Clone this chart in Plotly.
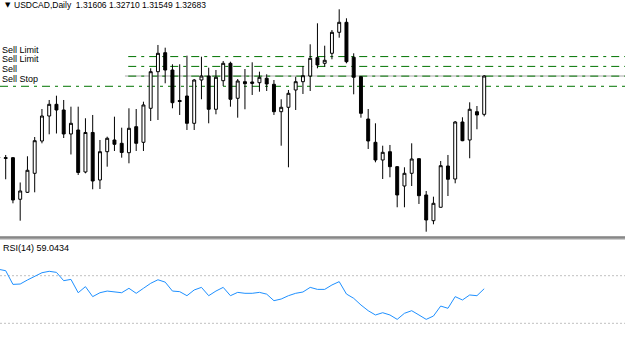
import plotly.graph_objects as go

# ---------------- data ----------------
symbol_title = "USDCAD,Daily"
ohlc_text = "1.31606 1.32710 1.31549 1.32683"

open_ = [1.30393, 1.30365, 1.30388, 1.29219, 1.29415, 1.29949, 1.30857, 1.31559, 1.31888, 1.31728,
         1.31054, 1.31166, 1.29986, 1.31096, 1.29761, 1.30556, 1.30885, 1.30792, 1.30528, 1.31259,
         1.30820, 1.31776, 1.32804, 1.33338, 1.32852, 1.31995, 1.32121, 1.31354, 1.32571, 1.32683,
         1.31748, 1.32551, 1.33040, 1.32057, 1.32523, 1.32473, 1.32495, 1.32619, 1.32450, 1.31680,
         1.31804, 1.32290, 1.32523, 1.32683, 1.33198, 1.33040, 1.33321, 1.33911, 1.34192, 1.33209,
         1.32664, 1.31475, 1.30820, 1.30323, 1.30556, 1.30135, 1.29592, 1.29949, 1.30360, 1.29340,
         1.28617, 1.28994, 1.30154, 1.29789, 1.31391, 1.30885, 1.31680, 1.31606]
high_ = [1.30492, 1.30464, 1.30407, 1.29691, 1.30427, 1.30969, 1.31756, 1.32009, 1.32130, 1.32009,
         1.31821, 1.31821, 1.31495, 1.31588, 1.30885, 1.30978, 1.31540, 1.31231, 1.31776, 1.31756,
         1.31961, 1.32900, 1.33555, 1.33479, 1.33012, 1.33012, 1.33254, 1.32599, 1.33226, 1.32917,
         1.32852, 1.33105, 1.33085, 1.32599, 1.32880, 1.33068, 1.32804, 1.32731, 1.32571, 1.32029,
         1.32290, 1.32664, 1.32964, 1.33574, 1.34164, 1.33535, 1.33976, 1.34558, 1.34305, 1.33321,
         1.32683, 1.31756, 1.31354, 1.30725, 1.30745, 1.30154, 1.30118, 1.30792, 1.30365, 1.29452,
         1.29292, 1.30295, 1.30464, 1.31419, 1.31523, 1.31944, 1.31840, 1.32710]
low_ = [1.30267, 1.29781, 1.29106, 1.28617, 1.29396, 1.29415, 1.30792, 1.31045, 1.31068, 1.30941,
        1.30478, 1.29902, 1.29949, 1.29500, 1.29508, 1.30135, 1.30576, 1.30388, 1.30230, 1.30576,
        1.30576, 1.31419, 1.31447, 1.32478, 1.31776, 1.31588, 1.31166, 1.31166, 1.32029, 1.31354,
        1.31607, 1.32402, 1.31821, 1.31512, 1.31748, 1.32150, 1.32242, 1.32262, 1.31588, 1.30725,
        1.30118, 1.31728, 1.32178, 1.32262, 1.32900, 1.32945, 1.33153, 1.33760, 1.33040, 1.32169,
        1.31512, 1.30632, 1.30258, 1.29789, 1.29837, 1.28994, 1.28994, 1.29592, 1.29087, 1.28308,
        1.28516, 1.28988, 1.29311, 1.29668, 1.30851, 1.30371, 1.31186, 1.31549]
close_ = [1.30379, 1.30388, 1.29199, 1.29452, 1.30034, 1.30865, 1.31559, 1.31888, 1.31728, 1.31054,
          1.31354, 1.29972, 1.31096, 1.29733, 1.30556, 1.30933, 1.30764, 1.30534, 1.31214, 1.30792,
          1.31869, 1.32804, 1.33321, 1.32852, 1.31933, 1.31967, 1.31354, 1.32571, 1.32683, 1.31748,
          1.32647, 1.33040, 1.32029, 1.32543, 1.32467, 1.32515, 1.32647, 1.32459, 1.31680, 1.31804,
          1.32197, 1.32523, 1.32692, 1.33181, 1.32993, 1.33125, 1.33911, 1.34192, 1.33085, 1.32647,
          1.31635, 1.30857, 1.30323, 1.30539, 1.30135, 1.29340, 1.29949, 1.30351, 1.29320, 1.28637,
          1.29106, 1.30163, 1.29781, 1.31391, 1.30865, 1.31748, 1.31588, 1.32683]

rsi = [75.4, 74.2, 62.7, 63.0, 66.4, 69.7, 72.5, 73.7, 72.8, 65.8,
       66.9, 55.7, 60.8, 52.4, 55.7, 57.1, 56.6, 55.7, 59.4, 55.2,
       59.4, 63.6, 66.6, 64.6, 57.1, 56.6, 53.2, 58.0, 60.2, 53.2,
       57.1, 60.2, 53.2, 56.0, 55.2, 55.2, 56.0, 54.5, 49.0, 50.4,
       53.2, 55.2, 56.3, 60.2, 58.5, 58.5, 62.2, 65.0, 54.6, 51.0,
       45.4, 40.6, 37.0, 38.9, 37.0, 33.3, 38.4, 40.6, 37.0, 33.3,
       36.1, 44.5, 42.6, 52.4, 49.6, 53.8, 53.2, 59.04]
rsi_label = "RSI(14) 59.0434"
rsi_levels = [70, 30]

order_labels = ["Sell Limit", "Sell Limit", "Sell", "Sell Stop"]
order_prices = [1.33229, 1.32953, 1.32680, 1.32394]
bid_price = 1.32683

bars = list(range(len(open_)))

# ---------------- figure ----------------
W, H = 625, 359
GREEN = "#007400"
DASHDOT = "8px,5px,3px,5px"

fig = go.Figure()
fig.add_trace(go.Candlestick(
    x=bars, open=open_, high=high_, low=low_, close=close_,
    increasing=dict(line=dict(color="black", width=1), fillcolor="white"),
    decreasing=dict(line=dict(color="black", width=1), fillcolor="black"),
    whiskerwidth=0, xaxis="x", yaxis="y", showlegend=False, hoverinfo="skip"))
fig.add_trace(go.Scatter(
    x=bars, y=rsi, mode="lines", line=dict(color="#1E90FF", width=1),
    xaxis="x", yaxis="y2", showlegend=False, hoverinfo="skip"))

def py(px):
    return 1 - px / H

shapes = []
# bid line
shapes.append(dict(type="line", xref="x", yref="y", x0=17.45, x1=100, y0=bid_price, y1=bid_price,
                   line=dict(color="#a8a8a8", width=1), layer="below"))
# order lines
for i, p in enumerate(order_prices):
    if order_labels[i] == "Sell Stop":
        shapes.append(dict(type="line", xref="paper", yref="y", x0=0, x1=1, y0=p, y1=p,
                           line=dict(color=GREEN, width=1, dash=DASHDOT), layer="below"))
    else:
        shapes.append(dict(type="line", xref="x", yref="y", x0=17.9, x1=100, y0=p, y1=p,
                           line=dict(color=GREEN, width=1, dash=DASHDOT), layer="below"))
# RSI levels
for lv in rsi_levels:
    shapes.append(dict(type="line", xref="paper", yref="y2", x0=0, x1=1, y0=lv, y1=lv,
                       line=dict(color="#c0c0c0", width=1, dash="2px,2px"), layer="below"))
# panel separator
shapes.append(dict(type="rect", xref="paper", yref="paper", x0=0, x1=1, y0=py(239.5), y1=py(236.5),
                   fillcolor="#a0a0a0", line=dict(width=0)))
shapes.append(dict(type="line", xref="paper", yref="paper", x0=0, x1=1, y0=py(237), y1=py(237),
                   line=dict(color="#6e6e6e", width=1)))

FONT = "Liberation Sans, Arial, sans-serif"
annotations = [
    dict(text="▼", x=3 / W, y=py(5), xref="paper", yref="paper", xanchor="left", yanchor="middle",
         showarrow=False, font=dict(family="DejaVu Sans", size=7, color="black")),
    dict(text=symbol_title + "  " + ohlc_text, x=12 / W, y=py(5), xref="paper", yref="paper",
         xanchor="left", yanchor="middle", showarrow=False,
         font=dict(family=FONT, size=8.5, color="black")),
    dict(text=rsi_label, x=1 / W, y=py(247.5), xref="paper", yref="paper",
         xanchor="left", yanchor="middle", showarrow=False,
         font=dict(family=FONT, size=9, color="black")),
]
label_px = [49.5, 59.5, 69.5, 79]
for lbl, ypx in zip(order_labels, label_px):
    annotations.append(dict(text=lbl, x=0, y=py(ypx), xref="paper", yref="paper",
                            xanchor="left", yanchor="middle", showarrow=False,
                            font=dict(family=FONT, size=9, color="black")))

fig.update_layout(
    width=W, height=H, autosize=False,
    margin=dict(l=0, r=0, t=0, b=0, pad=0),
    paper_bgcolor="white", plot_bgcolor="white",
    boxgap=0.42,
    xaxis=dict(range=[0.214, 86.42], visible=False, showgrid=False, zeroline=False,
               rangeslider=dict(visible=False), fixedrange=True, anchor="y2"),
    yaxis=dict(domain=[py(236), 1], range=[1.28187, 1.34819], visible=False,
               showgrid=False, zeroline=False, fixedrange=True),
    yaxis2=dict(domain=[0, py(240)], range=[0, 100], visible=False,
                showgrid=False, zeroline=False, fixedrange=True),
    shapes=shapes, annotations=annotations,
)

fig.write_html("out.html", config={"displayModeBar": False})
